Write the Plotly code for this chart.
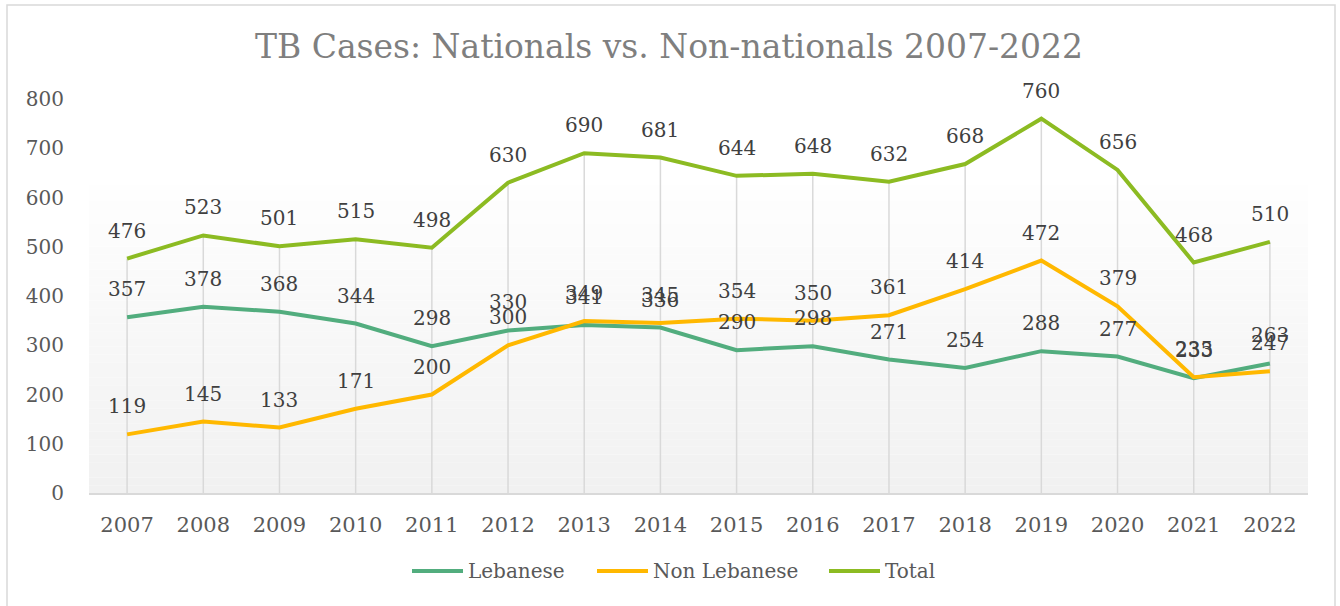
import plotly.graph_objects as go

years = ["2007", "2008", "2009", "2010", "2011", "2012", "2013", "2014",
         "2015", "2016", "2017", "2018", "2019", "2020", "2021", "2022"]
lebanese = [357, 378, 368, 344, 298, 330, 341, 336, 290, 298, 271, 254, 288, 277, 233, 263]
non_lebanese = [119, 145, 133, 171, 200, 300, 349, 345, 354, 350, 361, 414, 472, 379, 235, 247]
total = [476, 523, 501, 515, 498, 630, 690, 681, 644, 648, 632, 668, 760, 656, 468, 510]

series_names = ["Lebanese", "Non Lebanese", "Total"]
series_values = [lebanese, non_lebanese, total]
series_colors = ["#52ad7e", "#ffb800", "#8cbb22"]

FONT = "DejaVu Serif"
W, H = 1340, 606
# target screen plot area: x 89..1308, y 99..493
L = 89
T = 99
PW = 1308 - 89
PH = 493 - 99
R = W - L - PW
B = H - T - PH

def px_x(p):
    return (p - L) / PW
def px_y(p):
    return (T + PH - p) / PH

fig = go.Figure()

# drop lines (from axis up to highest point of each category)
dx, dy = [], []
for yr, t in zip(years, total):
    dx += [yr, yr, None]
    dy += [0, t, None]
fig.add_trace(go.Scatter(x=dx, y=dy, mode="lines", showlegend=False, hoverinfo="skip",
                         line=dict(color="#d9d9d9", width=1.5)))

for name, vals, col in zip(series_names, series_values, series_colors):
    fig.add_trace(go.Scatter(x=years, y=vals, mode="lines", name=name, showlegend=False,
                             line=dict(color=col, width=4)))

annotations = []
for vals in series_values:
    for i, v in enumerate(vals):
        annotations.append(dict(x=i, y=v, text=str(v), showarrow=False, xref="x", yref="y",
                                yshift=28, font=dict(family=FONT, size=20, color="#404040")))

# plot-area gradient (white at top -> light grey at bottom)
shapes = []
n = 40
top = 625.0
for i in range(n):
    y0 = top * i / n
    y1 = top * (i + 1) / n
    frac = (i + 0.5) / n
    c = int(round(241 + (254 - 241) * frac))
    shapes.append(dict(type="rect", xref="paper", yref="y", x0=0, x1=1, y0=y0, y1=y1,
                       fillcolor=f"rgb({c},{c},{c})", line=dict(width=0), layer="below"))

# outer chart border
shapes.append(dict(type="rect", xref="paper", yref="paper",
                   x0=px_x(7), x1=px_x(1335), y0=px_y(620), y1=px_y(5),
                   line=dict(color="#d9d9d9", width=1.5), fillcolor="rgba(0,0,0,0)", layer="below"))

# legend (drawn as line samples + text, laid out like the original)
legend_starts = [412, 597, 829]
LEG_Y = px_y(571)
for name, col, x0 in zip(series_names, series_colors, legend_starts):
    shapes.append(dict(type="line", xref="paper", yref="paper",
                       x0=px_x(x0), x1=px_x(x0 + 51), y0=LEG_Y, y1=LEG_Y,
                       line=dict(color=col, width=4)))
    annotations.append(dict(x=px_x(x0 + 54), y=LEG_Y, xref="paper", yref="paper",
                            xanchor="left", yanchor="middle", showarrow=False, text=name,
                            font=dict(family=FONT, size=20, color="#595959")))

fig.update_layout(
    width=W, height=H,
    margin=dict(l=L, r=R, t=T, b=B, pad=0),
    paper_bgcolor="white", plot_bgcolor="rgba(0,0,0,0)",
    title=dict(text="TB Cases: Nationals vs. Non-nationals 2007-2022",
               x=px_x(669), xref="paper", xanchor="center",
               y=1 - 46 / H, yanchor="middle",
               font=dict(family=FONT, size=33, color="#7f7f7f")),
    xaxis=dict(type="category", range=[-0.5, 15.5], showgrid=False, zeroline=False,
               showline=True, linecolor="#d9d9d9", linewidth=1.5,
               ticks="outside", ticklen=12, tickcolor="rgba(0,0,0,0)",
               tickfont=dict(family=FONT, size=21, color="#595959")),
    yaxis=dict(range=[0, 800], dtick=100, showgrid=False, zeroline=False, showline=False,
               ticks="outside", ticklen=20, tickcolor="rgba(0,0,0,0)",
               tickfont=dict(family=FONT, size=20, color="#595959")),
    annotations=annotations,
    shapes=shapes,
    showlegend=False,
)

fig.write_html("out.html", config={"displayModeBar": False},
               post_script="document.body.style.margin='0';")
